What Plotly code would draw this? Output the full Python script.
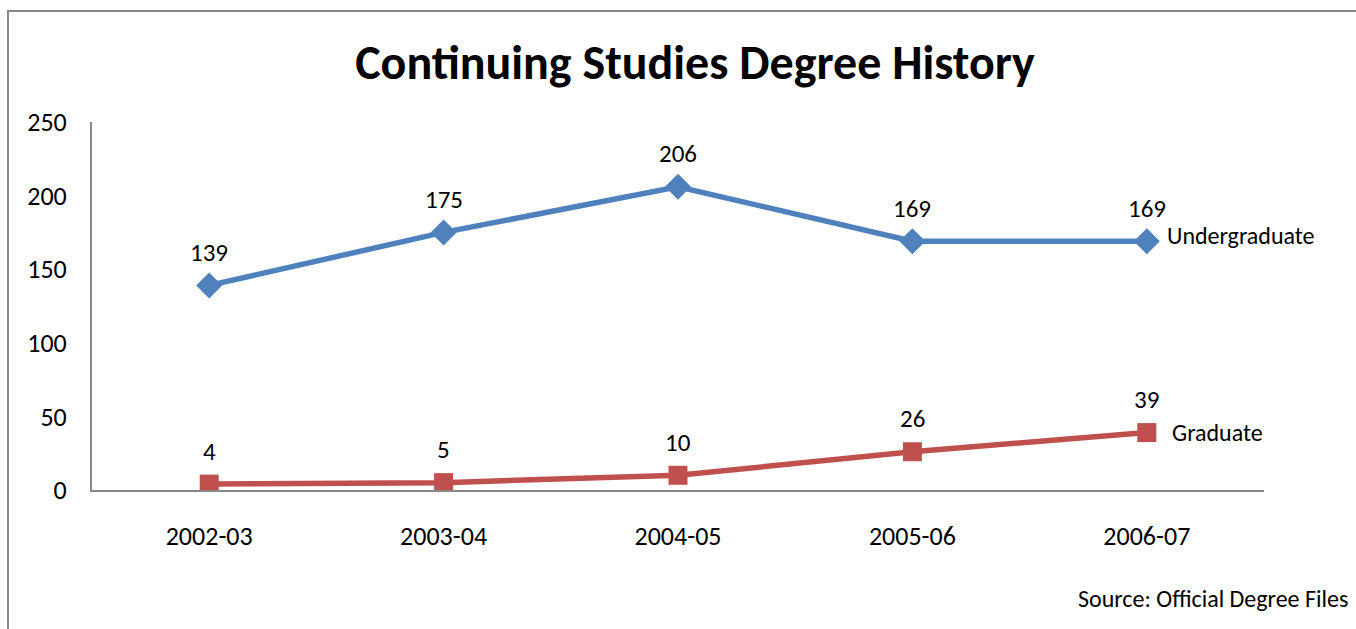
import plotly.graph_objects as go

years = ["2002-03", "2003-04", "2004-05", "2005-06", "2006-07"]
undergraduate = [139, 175, 206, 169, 169]
graduate = [4, 5, 10, 26, 39]
y_ticks = [0, 50, 100, 150, 200, 250]

FONT = "Carlito, Lato, sans-serif"
BLUE = "#4F81BD"
RED = "#C0504D"
FRAME = "#888888"

W, H = 1356, 629
L, R, T, B = 92, 92, 122, 139
pw, ph = W - L - R, H - T - B


def px_x(x):
    return (x - L) / pw


def px_y(y):
    return (H - B - y) / ph


fig = go.Figure()
fig.add_trace(go.Scatter(
    x=years, y=undergraduate, mode="lines+markers", name="Undergraduate",
    line=dict(color=BLUE, width=5.5),
    marker=dict(symbol="diamond", size=20, color=BLUE),
))
fig.add_trace(go.Scatter(
    x=years, y=graduate, mode="lines+markers", name="Graduate",
    line=dict(color=RED, width=5.5),
    marker=dict(symbol="square", size=19, color=RED),
))

annotations = []
for series in (undergraduate, graduate):
    for x, v in zip(years, series):
        annotations.append(dict(
            x=x, y=v, xref="x", yref="y", text=str(v), showarrow=False,
            yshift=33, font=dict(family=FONT, size=25, color="black"),
        ))

annotations.append(dict(x=years[-1], y=undergraduate[-1], xref="x", yref="y",
                        text="Undergraduate", showarrow=False, xanchor="left",
                        xshift=18, yshift=6, font=dict(family=FONT, size=24, color="black")))
annotations.append(dict(x=years[-1], y=graduate[-1], xref="x", yref="y",
                        text="Graduate", showarrow=False, xanchor="left",
                        xshift=23, yshift=0, font=dict(family=FONT, size=24, color="black")))
annotations.append(dict(x=px_x(1350), y=px_y(598), xref="paper", yref="paper",
                        text="Source: Official Degree Files", showarrow=False,
                        xanchor="right", yanchor="middle",
                        font=dict(family=FONT, size=24, color="black")))

shapes = [
    dict(type="line", xref="paper", yref="paper", x0=px_x(8), x1=px_x(8),
         y0=px_y(11), y1=px_y(H + 5), line=dict(color=FRAME, width=2)),
    dict(type="line", xref="paper", yref="paper", x0=px_x(7), x1=px_x(W + 5),
         y0=px_y(11), y1=px_y(11), line=dict(color=FRAME, width=2)),
]

fig.update_layout(
    width=W, height=H,
    margin=dict(l=L, r=R, t=T, b=B),
    paper_bgcolor="white", plot_bgcolor="white",
    showlegend=False,
    title=dict(text="<b>Continuing Studies Degree History</b>",
               x=px_x(695), xanchor="center", y=1 - 62 / H, yanchor="middle",
               xref="paper", yref="container",
               font=dict(family=FONT, size=48, color="black")),
    xaxis=dict(type="category", range=[-0.5, 4.5], showgrid=False,
               showline=True, linecolor=FRAME, linewidth=2, ticks="",
               tickfont=dict(family=FONT, size=26, color="black"),
               ticklabelstandoff=22, zeroline=False, fixedrange=True),
    yaxis=dict(range=[0, 250], tickvals=y_ticks, showgrid=False,
               showline=True, linecolor=FRAME, linewidth=2, ticks="",
               tickfont=dict(family=FONT, size=26, color="black"),
               ticklabelstandoff=18, zeroline=False, fixedrange=True),
    annotations=annotations,
    shapes=shapes,
)

fig.write_html("out.html")
